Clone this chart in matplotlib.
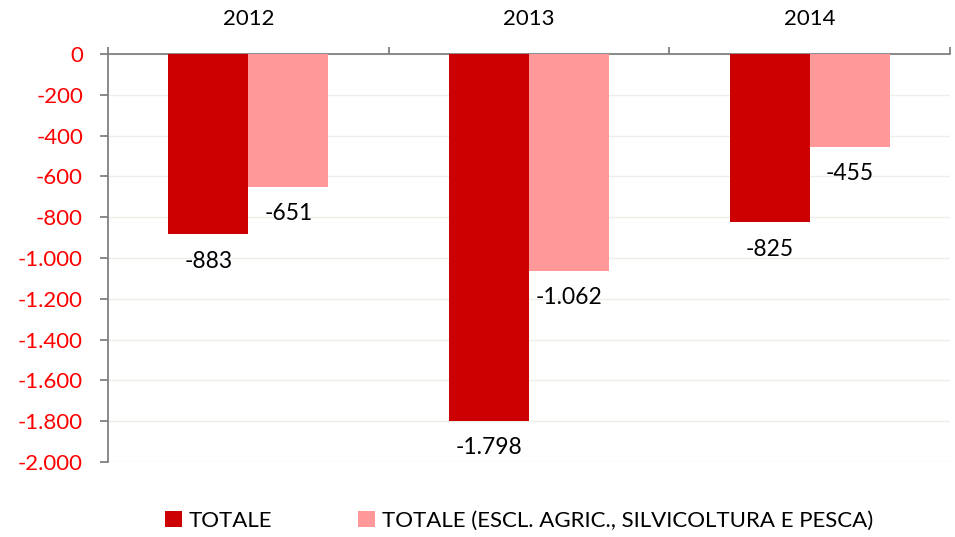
import matplotlib
matplotlib.use("Agg")
import matplotlib.pyplot as plt
from matplotlib.ticker import FuncFormatter, FixedLocator
from matplotlib.patches import Patch

categories = ["2012", "2013", "2014"]
totale = [-883, -1798, -825]
totale_escl = [-651, -1062, -455]
series_names = ["TOTALE", "TOTALE (ESCL. AGRIC., SILVICOLTURA E PESCA)"]
colors = ["#CC0000", "#FF9999"]

plt.rcParams['font.family'] = ['Lato', 'DejaVu Sans']

def fmt(v):
    s = f"{abs(int(round(v))):,}".replace(",", ".")
    return ("-" if v < 0 else "") + s

fig = plt.figure(figsize=(9.55, 5.37), dpi=100)
ax = fig.add_axes([108/955, 1-462/537, (950-108)/955, (462-54)/537])

x = list(range(len(categories)))
w = 0.285
b1 = ax.bar([i - w/2 for i in x], totale, width=w, color=colors[0], zorder=3)
b2 = ax.bar([i + w/2 for i in x], totale_escl, width=w, color=colors[1], zorder=3)

for bars, vals in ((b1, totale), (b2, totale_escl)):
    for r, v in zip(bars, vals):
        ax.annotate(fmt(v), (r.get_x() + r.get_width()/2, v), xytext=(0, -12),
                    textcoords="offset points", ha="center", va="top",
                    fontsize=16.5, color="black")

ax.set_xlim(-0.5, 2.5)
ax.set_ylim(-2000, 0)
ax.set_yticks(range(-2000, 1, 200))
ax.yaxis.set_major_formatter(FuncFormatter(lambda v, p: fmt(v)))
ax.tick_params(axis='y', colors='#808080', labelcolor='#FF0000', labelsize=16,
               length=6, width=1.3, pad=12)
ax.grid(axis='y', color='#EEEEE8', linewidth=1, zorder=0)

ax.xaxis.tick_top()
ax.set_xticks(x)
ax.set_xticklabels(categories)
ax.tick_params(axis='x', which='major', length=0, labelsize=16, pad=18, labelcolor='black')
ax.xaxis.set_minor_locator(FixedLocator([-0.5, 0.5, 1.5, 2.5]))
ax.tick_params(axis='x', which='minor', length=5, width=1.3, colors='#808080', top=True, bottom=False)

for s in ['right', 'bottom']:
    ax.spines[s].set_visible(False)
for s in ['left', 'top']:
    ax.spines[s].set_color('#808080')
    ax.spines[s].set_linewidth(1.3)

handles = [Patch(facecolor=c) for c in colors]
fig.legend(handles, series_names, loc='center', bbox_to_anchor=(519/955, 1-521/537),
           ncol=2, frameon=False, fontsize=16, handlelength=0.75, handleheight=0.75,
           handletextpad=0.3, columnspacing=3.9)

fig.savefig("out.png", dpi=100)
